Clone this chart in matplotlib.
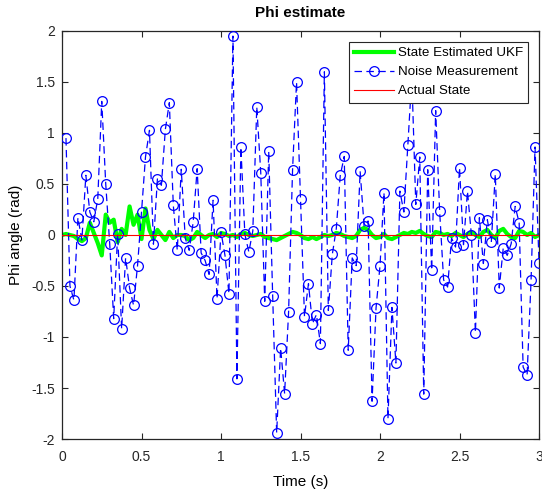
import numpy as np
import matplotlib
matplotlib.use('Agg')
import matplotlib.pyplot as plt

matplotlib.rcParams['font.family'] = ['Liberation Sans', 'DejaVu Sans']
matplotlib.rcParams['axes.unicode_minus'] = False

dt = 0.025
# noisy measurement, one value per sample k = 1..120
noise_meas = [
    0.95, -0.50, -0.64, 0.17, -0.05, 0.585, 0.225, 0.13, 0.356, 1.31,
    0.50, -0.085, -0.82, 0.01, -0.92, -0.225, -0.52, -0.69, -0.30, 0.225,
    0.765, 1.026, -0.09, 0.55, 0.487, 1.036, 1.297, 0.29, -0.15, 0.644,
    -0.03, -0.15, 0.127, 0.65, -0.176, -0.25, -0.386, 0.34, -0.624, 0.03,
    -0.20, -0.575, 1.95, -1.41, 0.86, 0.007, -0.167, 0.04, 1.255, 0.61,
    -0.65, 0.82, -0.60, -1.94, -1.11, -1.555, -0.755, 0.64, 1.50, 0.356,
    -0.80, -0.477, -0.87, -0.78, -1.065, 1.60, -0.74, -0.19, 0.062, 0.585,
    0.77, -1.13, -0.225, -0.30, 0.624, 0.088, 0.137, -1.63, -0.716, -0.30,
    0.415, -1.80, -0.71, -1.255, 0.43, 0.225, 0.88, 1.55, 0.30, 0.765,
    -1.56, 0.64, -0.346, 1.22, 0.232, -0.44, -0.51, -0.03, -0.118, 0.66,
    -0.095, 0.428, -0.003, -0.957, 0.17, -0.28, 0.15, -0.07, 0.595, -0.52,
    -0.127, -0.20, -0.085, 0.28, 0.12, -1.294, -1.375, -0.444, 0.863, -0.27,
]
# UKF estimate, one value per sample k = 0..120
ukf_est = [
    0.0, 0.01, 0.0, -0.01, -0.04, -0.06, -0.03, 0.12, 0.02, -0.08,
    -0.20, 0.20, 0.12, 0.15, -0.07, 0.06, 0.0, 0.28, 0.10, 0.20,
    -0.04, 0.26, 0.05, -0.04, 0.05, 0.0, -0.05, 0.03, -0.03, 0.0,
    0.0, -0.01, -0.05, -0.03, 0.03, 0.0, -0.03, 0.0, 0.01, -0.02,
    0.02, 0.01, -0.01, 0.0, -0.02, 0.01, 0.02, 0.0, -0.01, 0.0,
    0.01, -0.02, -0.03, -0.04, -0.05, -0.03, -0.01, 0.01, 0.03, 0.02,
    0.0, -0.03, -0.04, -0.02, -0.04, -0.02, 0.0, -0.01, 0.0, 0.02,
    0.01, -0.01, -0.02, -0.03, -0.01, 0.05, 0.07, 0.05, 0.0, -0.03,
    -0.02, 0.01, -0.03, -0.04, -0.02, 0.0, 0.02, 0.01, 0.03, 0.02,
    0.04, 0.01, -0.01, -0.02, 0.03, 0.02, 0.0, 0.01, -0.01, 0.02,
    0.0, -0.02, 0.01, 0.03, 0.0, -0.02, 0.03, 0.05, 0.0, -0.03,
    0.04, 0.06, 0.01, -0.02, -0.03, 0.04, 0.03, 0.0, 0.02, -0.02,
    0.0,
]
actual_state = [0.0] * 121

t_meas = dt * np.arange(1, len(noise_meas) + 1)
t_est = dt * np.arange(len(ukf_est))

fig = plt.figure(figsize=(5.42, 4.91), dpi=100)
ax = fig.add_axes([0.1144, 0.1059, 0.8801, 0.831])

ax.plot(t_est, ukf_est, color='#00ff00', lw=3, label='State Estimated UKF', zorder=2)
ax.plot(t_meas, noise_meas, color='#0000ff', lw=0.9, ls='--', dashes=(6, 3.5),
        marker='o', ms=7, mfc='none', mec='#0000ff', mew=0.9,
        label='Noise Measurement', zorder=3)
ax.plot(t_est, actual_state, color='#ff0000', lw=0.8, label='Actual State', zorder=4)

ax.set_xlim(0, 3)
ax.set_ylim(-2, 2)
ax.set_xticks(np.arange(0, 3.01, 0.5))
ax.set_xticklabels(['0', '0.5', '1', '1.5', '2', '2.5', '3'])
ax.set_yticks(np.arange(-2, 2.01, 0.5))
ax.set_yticklabels(['-2', '-1.5', '-1', '-0.5', '0', '0.5', '1', '1.5', '2'])
ax.tick_params(direction='in', length=4, width=0.8, top=True, right=True,
               labelsize=10, colors='#262626')
ax.tick_params(axis='x', pad=8)
ax.tick_params(axis='y', pad=5)
for s in ax.spines.values():
    s.set_color('#262626')
    s.set_linewidth(0.9)

ax.set_title('Phi estimate', fontsize=11, fontweight='bold', pad=10)
ax.set_xlabel('Time (s)', fontsize=11, labelpad=8)
ax.set_ylabel('Phi angle (rad)', fontsize=11, labelpad=6)

leg = ax.legend(loc='upper right', fontsize=9.6, handlelength=3.0, numpoints=1,
                fancybox=False, framealpha=1, edgecolor='#262626',
                borderpad=0.4, labelspacing=0.5, handletextpad=0.3,
                borderaxespad=0.8)
leg.get_frame().set_linewidth(0.8)

fig.savefig('out.png', dpi=100)
